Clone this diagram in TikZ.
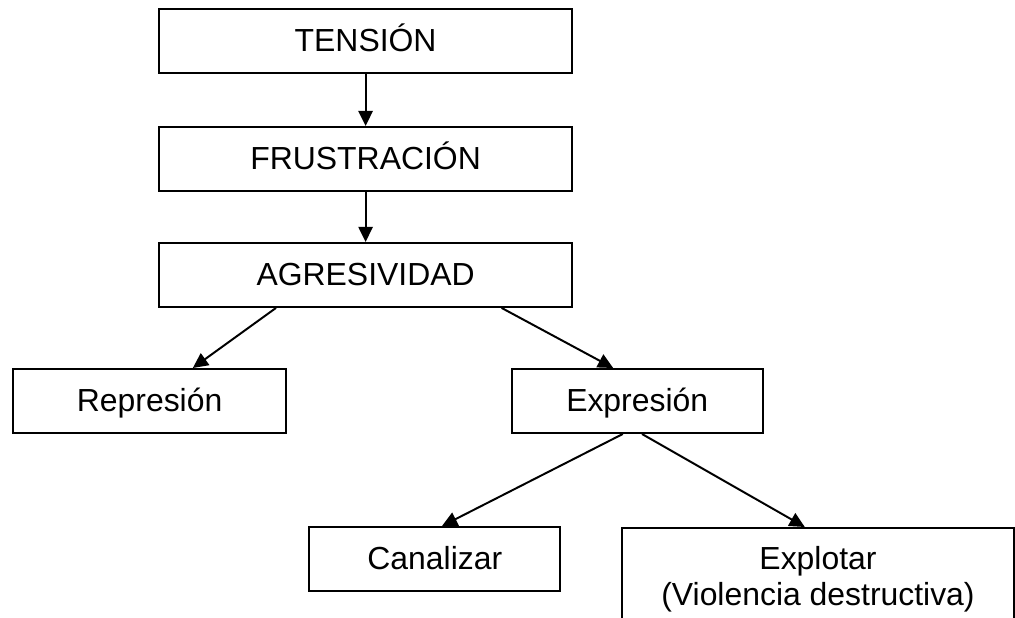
\documentclass[tikz,border=0pt]{standalone}
\usepackage{fontspec}
\setmainfont{Liberation Sans}
\usepackage{tikz}
\usetikzlibrary{positioning}
\usetikzlibrary{arrows.meta}

\begin{document}
\begin{tikzpicture}[box/.style={draw,rectangle,line width=1.4pt,minimum height=1.6cm,text height=16.5pt,text depth=1pt,font=\fontsize{22.7}{25}\selectfont},
	flecha/.style={-{Triangle[length=0.38cm,width=0.36cm]},line width=1.4pt}]
	
	\useasboundingbox (0,0) rectangle (25.375,-15.45);
	\clip (0,0) rectangle (25.375,-15.45);
	
	%chain
	\node[box,minimum width=10.33cm] (tension) at (9.14cm,-1.025cm) {TENSIÓN};
	\node[box,minimum width=10.33cm] (frus) [below=1.3cm of tension] {FRUSTRACIÓN};
	\node[box,minimum width=10.33cm] (agr) [below=1.25cm of frus] {AGRESIVIDAD};
	
	\draw[flecha] (tension) -- (frus);
	\draw[flecha] (frus) -- (agr);
	
	%reactions
	\node[box,minimum width=6.83cm] (rep) at (3.74cm,-10.025cm) {Represión};
	\node[box,minimum width=6.28cm] (expr) at (15.93cm,-10.025cm) {Expresión};
	
	\draw[flecha] ([xshift=-2.24cm]agr.south) -- ([xshift=1.08cm]rep.north);
	\draw[flecha] ([xshift=3.4cm]agr.south) -- ([xshift=-0.6cm]expr.north);
	
	%outlets
	\node[box,minimum width=6.28cm] (canal) at (10.87cm,-13.975cm) {Canalizar};
	\node[draw,rectangle,line width=1.4pt,align=center,anchor=north,minimum width=9.82cm,inner ysep=0.47cm,font=\fontsize{22.7}{25}\selectfont] (explo) at (20.45cm,-13.175cm) {Explotar\\(Violencia destructiva)};
	
	\draw[flecha] ([xshift=-0.36cm]expr.south) -- ([xshift=0.18cm]canal.north);
	\draw[flecha] ([xshift=0.12cm]expr.south) -- ([xshift=-0.33cm]explo.north);
	
\end{tikzpicture}
\end{document}
